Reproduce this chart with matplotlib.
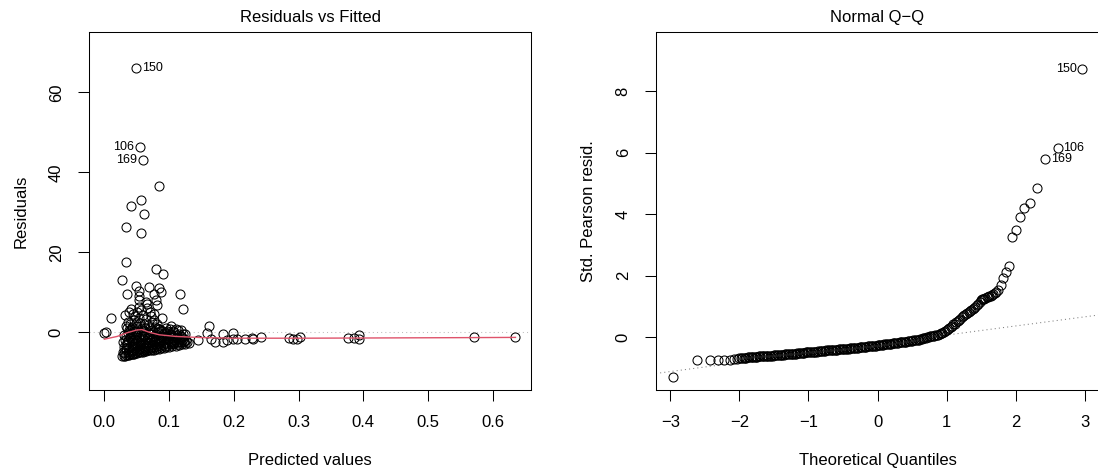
import matplotlib
matplotlib.use("Agg")
import matplotlib.pyplot as plt

plt.rcParams['font.family'] = ['Liberation Sans', 'DejaVu Sans']

# --- Residuals vs Fitted: scattered points ---
fit_out = [0.0495, 0.0547, 0.0593, 0.085, 0.0562, 0.0413, 0.0614, 0.034, 0.0567, 0.0335,
           0.0804, 0.0912, 0.0274, 0.049, 0.069, 0.085, 0.087, 0.0536, 0.0356, 0.1165,
           0.076, 0.053, 0.0794, 0.054, 0.065, 0.066, 0.082, 0.121, 0.054, 0.041,
           0.038, 0.071, 0.076, 0.0315, 0.048, 0.054, 0.0099, 0.0897, 0.076, 0.037,
           0.055, 0.082, 0.034, 0.071, 0.084, 0.041, 0.103, 0.111, 0.118, 0.002,
           0.0, 0.124]
res_out = [66.1, 46.4, 43.1, 36.7, 33.0, 31.7, 29.7, 26.3, 24.8, 17.7,
           15.9, 14.5, 13.1, 11.7, 11.4, 11.1, 10.0, 10.4, 9.6, 9.65,
           9.7, 9.2, 8.2, 8.0, 7.5, 7.0, 6.8, 5.9, 6.4, 5.9,
           5.2, 5.2, 4.7, 4.25, 4.2, 3.7, 3.7, 3.5, 3.0, 2.6,
           2.3, 2.0, 1.7, 1.1, 0.8, 0.8, 1.7, 0.8, 0.5, 0.0,
           -0.2, -0.4]

# points with larger fitted values
fit_tail = [0.1618, 0.158, 0.164, 0.171, 0.144, 0.183, 0.183, 0.189, 0.198, 0.199,
            0.2046, 0.2175, 0.228, 0.230, 0.2417, 0.285, 0.2907, 0.297, 0.3025, 0.3756,
            0.385, 0.3926, 0.3936, 0.5703, 0.6348]
res_tail = [1.7, -0.1, -1.75, -2.3, -1.9, -0.4, -2.3, -1.9, -0.25, -1.75,
            -1.75, -1.75, -1.5, -1.75, -1.25, -1.5, -1.55, -1.6, -1.25, -1.5,
            -1.4, -0.75, -1.6, -1.25, -1.25]

# dense cluster near small fitted values
fit_dense = [0.028, 0.030, 0.032, 0.034, 0.036, 0.038, 0.040, 0.042, 0.044, 0.046,
             0.048, 0.050, 0.053, 0.056, 0.059, 0.062, 0.065, 0.068, 0.071, 0.074,
             0.077, 0.080, 0.084, 0.088, 0.092, 0.096, 0.100, 0.105, 0.110, 0.115,
             0.120, 0.125, 0.130,
             0.029, 0.033, 0.037, 0.041, 0.045, 0.049, 0.054, 0.058, 0.063, 0.067,
             0.072, 0.076, 0.081, 0.086, 0.091, 0.097, 0.103, 0.108, 0.113, 0.118,
             0.123, 0.128,
             0.030, 0.034, 0.038, 0.042, 0.046, 0.050, 0.055, 0.060, 0.064, 0.069,
             0.073, 0.078, 0.083, 0.088, 0.093, 0.099, 0.104, 0.109, 0.116, 0.121,
             0.029, 0.032, 0.035, 0.039, 0.043, 0.047, 0.051, 0.054, 0.057, 0.061,
             0.066, 0.070, 0.075, 0.079, 0.085, 0.090, 0.095, 0.101, 0.106, 0.112,
             0.119,
             0.031, 0.036, 0.040, 0.044, 0.048, 0.052, 0.056, 0.059, 0.063, 0.067,
             0.071, 0.074, 0.078, 0.082, 0.087, 0.092, 0.097, 0.102, 0.108, 0.113,
             0.040, 0.043, 0.046, 0.049, 0.051, 0.044, 0.050, 0.057, 0.060, 0.064,
             0.062, 0.068, 0.073, 0.058, 0.066, 0.072, 0.035, 0.038, 0.081, 0.085,
             0.096, 0.100,
             0.031, 0.033, 0.035, 0.037, 0.039, 0.041, 0.043, 0.045, 0.047, 0.049,
             0.051, 0.052, 0.055, 0.057, 0.059, 0.061, 0.063, 0.065, 0.067, 0.069,
             0.070, 0.072, 0.075, 0.077, 0.079, 0.080, 0.083, 0.085, 0.087, 0.089,
             0.091, 0.094, 0.096, 0.098, 0.100, 0.102, 0.106, 0.108, 0.111, 0.114,
             0.117, 0.120, 0.123, 0.126, 0.034, 0.044, 0.053, 0.062, 0.073, 0.084,
             0.093, 0.104, 0.060, 0.076, 0.088, 0.047, 0.095, 0.106, 0.115, 0.122]
res_dense = [-5.9, -5.8, -5.8, -5.7, -5.6, -5.6, -5.5, -5.4, -5.3, -5.3,
             -5.2, -5.1, -5.0, -4.9, -4.8, -4.7, -4.6, -4.5, -4.4, -4.4,
             -4.3, -4.2, -4.1, -4.0, -3.9, -3.7, -3.6, -3.5, -3.3, -3.1,
             -3.0, -2.9, -2.7,
             -4.8, -4.5, -4.9, -4.6, -4.4, -4.6, -4.2, -4.3, -3.9, -4.0,
             -3.7, -3.6, -3.5, -3.3, -3.2, -3.0, -2.8, -2.7, -2.5, -2.4,
             -2.2, -2.3,
             -3.6, -3.2, -3.8, -3.4, -3.0, -3.5, -3.1, -2.8, -3.2, -2.6,
             -2.9, -2.4, -2.7, -2.2, -2.4, -2.0, -2.1, -1.8, -1.9, -1.6,
             -2.5, -1.8, -2.3, -1.5, -2.2, -1.6, -2.0, -1.2, -1.8, -1.0,
             -1.7, -1.1, -1.5, -0.9, -1.3, -0.8, -1.2, -0.6, -1.0, -0.7,
             -0.9,
             -0.6, -0.2, 0.4, -0.5, 0.1, 0.9, -0.3, 0.5, 1.2, 0.2,
             -0.4, 0.6, 1.4, 0.0, 0.3, -0.2, 0.4, 0.9, 0.2, 0.6,
             2.0, 1.4, 3.0, 2.3, 1.6, 4.6, 5.0, 5.5, 4.4, 3.3,
             2.2, 1.8, 2.5, 1.0, 6.2, 4.0, 1.1, 0.7, 1.2, 0.9,
             1.0, 0.2,
             -5.2, -4.0, -3.0, -2.0, -1.0, -0.3, -4.9, -3.8, -2.7, -1.2,
             -0.5, -4.4, -3.6, -2.5, -1.5, -0.6, -4.2, -3.4, -2.3, -1.4,
             -0.3, -4.0, -3.2, -2.1, -1.6, -0.5, -3.8, -3.0, -2.0, -1.1,
             -0.4, -3.4, -2.6, -1.7, -1.0, -0.3, -3.0, -2.3, -1.4, -2.8,
             -2.0, -1.2, -2.5, -1.9, -0.9, -1.8, -2.9, -3.7, -1.9, -2.5,
             -1.5, -2.5, 0.3, 0.1, 0.6, 0.4, -0.1, 0.4, -0.5, -0.3]

# smoother (red line)
smooth_x = [0.0, 0.02, 0.035, 0.05, 0.058, 0.07, 0.085, 0.11, 0.15, 0.2, 0.3, 0.4, 0.57, 0.635]
smooth_y = [-1.7, -1.0, -0.1, 0.6, 0.7, 0.0, -0.6, -1.0, -1.3, -1.45, -1.45, -1.4, -1.3, -1.25]

# labelled observations (Residuals vs Fitted)
rvf_ids = ['150', '106', '169']
rvf_x = [0.0495, 0.0547, 0.0593]
rvf_y = [66.1, 46.4, 43.1]
rvf_side = ['right', 'left', 'left']

# --- Normal Q-Q ---
qq_theo = [-2.97, -2.61, -2.43, -2.31, -2.22, -2.14, -2.08, -2.04,
           -2.00, -1.96, -1.92, -1.88, -1.84, -1.80, -1.76, -1.72, -1.68, -1.64,
           -1.60, -1.56, -1.52, -1.48, -1.44, -1.40, -1.36, -1.32, -1.28, -1.24,
           -1.20, -1.16, -1.12, -1.08, -1.04, -1.00, -0.96, -0.92, -0.88, -0.84,
           -0.80, -0.76, -0.72, -0.68, -0.64, -0.60, -0.56, -0.52, -0.48, -0.44,
           -0.40, -0.36, -0.32, -0.28, -0.24, -0.20, -0.16, -0.12, -0.08, -0.04,
           0.00, 0.04, 0.08, 0.12, 0.16, 0.20, 0.24, 0.28, 0.32, 0.36,
           0.40, 0.44, 0.48, 0.52, 0.56, 0.60, 0.64, 0.68, 0.72, 0.76,
           0.80, 0.84, 0.88, 0.92, 0.96, 1.00, 1.04, 1.08, 1.12, 1.16,
           1.20, 1.24, 1.28, 1.32, 1.36, 1.40, 1.44, 1.48, 1.51, 1.54,
           1.58, 1.62, 1.66, 1.70, 1.75, 1.79, 1.82, 1.86, 1.91, 1.95,
           2.00, 2.06, 2.13, 2.21, 2.31, 2.43, 2.61, 2.97]
qq_samp = [-1.30, -0.74, -0.74, -0.74, -0.73, -0.72, -0.71, -0.70,
           -0.67, -0.66, -0.66, -0.65, -0.64, -0.64, -0.63, -0.62, -0.62, -0.61,
           -0.60, -0.60, -0.59, -0.58, -0.58, -0.57, -0.56, -0.55, -0.54, -0.53,
           -0.53, -0.52, -0.51, -0.50, -0.49, -0.48, -0.47, -0.47, -0.46, -0.45,
           -0.44, -0.43, -0.42, -0.42, -0.41, -0.40, -0.39, -0.38, -0.38, -0.37,
           -0.36, -0.35, -0.34, -0.33, -0.32, -0.31, -0.30, -0.29, -0.28, -0.27,
           -0.26, -0.25, -0.24, -0.22, -0.21, -0.20, -0.19, -0.18, -0.16, -0.15,
           -0.14, -0.13, -0.11, -0.10, -0.09, -0.07, -0.05, -0.02, 0.00, 0.03,
           0.05, 0.07, 0.09, 0.13, 0.18, 0.24, 0.30, 0.38, 0.45, 0.53,
           0.61, 0.69, 0.76, 0.82, 0.88, 0.96, 1.05, 1.15, 1.23, 1.26,
           1.30, 1.33, 1.38, 1.43, 1.54, 1.70, 1.94, 2.11, 2.33, 3.27,
           3.49, 3.92, 4.19, 4.37, 4.86, 5.80, 6.14, 8.73]

# further points in the dense part of the Q-Q curve
qq_theo_mid = [-1.98, -1.94, -1.90, -1.86, -1.82, -1.78, -1.74, -1.70, -1.66, -1.62,
               -1.58, -1.54, -1.50, -1.46, -1.42, -1.38, -1.34, -1.30, -1.26, -1.22,
               -1.18, -1.14, -1.10, -1.06, -1.02, -0.98, -0.94, -0.90, -0.86, -0.82,
               -0.78, -0.74, -0.70, -0.66, -0.62, -0.58, -0.54, -0.50, -0.46, -0.42,
               -0.38, -0.34, -0.30, -0.26, -0.22, -0.18, -0.14, -0.10, -0.06, -0.02,
               0.02, 0.06, 0.10, 0.14, 0.18, 0.22, 0.26, 0.30, 0.34, 0.38,
               0.42, 0.46, 0.50, 0.54, 0.58, 0.62, 0.66, 0.70, 0.74, 0.78,
               0.82, 0.86, 0.90, 0.94, 0.98, 1.02, 1.06, 1.10, 1.14, 1.18,
               1.22, 1.26, 1.30, 1.34, 1.38, 1.42, 1.46, 1.50, 1.53, 1.56,
               1.60, 1.64, 1.68, 1.72]
qq_samp_mid = [-0.665, -0.66, -0.655, -0.645, -0.64, -0.635, -0.625, -0.62, -0.615, -0.605,
               -0.60, -0.595, -0.585, -0.58, -0.575, -0.565, -0.555, -0.545, -0.535, -0.53,
               -0.525, -0.515, -0.505, -0.495, -0.485, -0.475, -0.47, -0.465, -0.455, -0.445,
               -0.435, -0.425, -0.42, -0.415, -0.405, -0.395, -0.385, -0.38, -0.375, -0.365,
               -0.355, -0.345, -0.335, -0.325, -0.315, -0.305, -0.295, -0.285, -0.275, -0.265,
               -0.255, -0.245, -0.23, -0.215, -0.205, -0.195, -0.185, -0.17, -0.155, -0.145,
               -0.135, -0.12, -0.105, -0.095, -0.08, -0.06, -0.035, -0.01, 0.015, 0.04,
               0.06, 0.08, 0.11, 0.155, 0.21, 0.27, 0.34, 0.42, 0.49, 0.57,
               0.65, 0.73, 0.79, 0.85, 0.92, 1.00, 1.10, 1.20, 1.25, 1.28,
               1.31, 1.35, 1.40, 1.47]

# reference line through the quartiles
qq_intercept = -0.222
qq_slope = 0.296

qq_ids = ['150', '106', '169']
qq_x = [2.97, 2.61, 2.43]
qq_y = [8.73, 6.14, 5.80]
qq_side = ['left', 'right', 'right']

W, H = 1098, 472
fig = plt.figure(figsize=(W / 100, H / 100), dpi=100)
ax1 = fig.add_axes([89 / W, 82 / H, 442 / W, 358 / H])
ax2 = fig.add_axes([656 / W, 82 / H, 443 / W, 358 / H])

mk = dict(marker='o', linestyle='none', markersize=6.5, markerfacecolor='none',
          markeredgecolor='black', markeredgewidth=0.75)


def style_axes(ax):
    for sp in ax.spines.values():
        sp.set_linewidth(0.75)
        sp.set_color('black')
    ax.tick_params(direction='out', length=7.7, width=0.75, labelsize=12, pad=10.5)
    for lab in ax.get_yticklabels():
        lab.set_rotation(90)
        lab.set_va('center')


def label_points(ax, ids, xs, ys, sides):
    for t, x, y, side in zip(ids, xs, ys, sides):
        dx = 4 if side == 'right' else -4
        ax.annotate(t, (x, y), xytext=(dx, 0), textcoords='offset points',
                    ha='left' if side == 'right' else 'right', va='center', fontsize=9)


# Residuals vs Fitted
ax1.axhline(0, color='#BEBEBE', lw=0.75, linestyle=(0, (1, 3)))
ax1.plot(fit_dense, res_dense, **mk)
ax1.plot(fit_out, res_out, **mk)
ax1.plot(fit_tail, res_tail, **mk)
ax1.plot(smooth_x, smooth_y, color='#DF536B', lw=1)
label_points(ax1, rvf_ids, rvf_x, rvf_y, rvf_side)
ax1.set_xlim(-0.0237, 0.659)
ax1.set_ylim(-14.4, 75.1)
ax1.set_xticks([0.0, 0.1, 0.2, 0.3, 0.4, 0.5, 0.6])
ax1.set_xticklabels(['0.0', '0.1', '0.2', '0.3', '0.4', '0.5', '0.6'])
ax1.set_yticks([0, 20, 40, 60])
ax1.set_title('Residuals vs Fitted', fontsize=12, pad=7)
ax1.set_xlabel('Predicted values', fontsize=12)
ax1.set_ylabel('Residuals', fontsize=12)
style_axes(ax1)

# Normal Q-Q
ax2.axline((0, qq_intercept), slope=qq_slope, color='#7F7F7F', lw=0.75, linestyle=(0, (1, 3)))
ax2.plot(qq_theo + qq_theo_mid, qq_samp + qq_samp_mid, **mk)
label_points(ax2, qq_ids, qq_x, qq_y, qq_side)
ax2.set_xlim(-3.21, 3.21)
ax2.set_ylim(-1.71, 9.92)
ax2.set_xticks([-3, -2, -1, 0, 1, 2, 3])
ax2.set_xticklabels(['\u22123', '\u22122', '\u22121', '0', '1', '2', '3'])
ax2.set_yticks([0, 2, 4, 6, 8])
ax2.set_title('Normal Q\u2212Q', fontsize=12, pad=7)
ax2.set_xlabel('Theoretical Quantiles', fontsize=12)
ax2.set_ylabel('Std. Pearson resid.', fontsize=12)
style_axes(ax2)

for ax in (ax1, ax2):
    ax.xaxis.set_label_coords(0.5, -0.176)
    ax.yaxis.set_label_coords(-0.136, 0.5)

fig.savefig('out.png', dpi=100)
